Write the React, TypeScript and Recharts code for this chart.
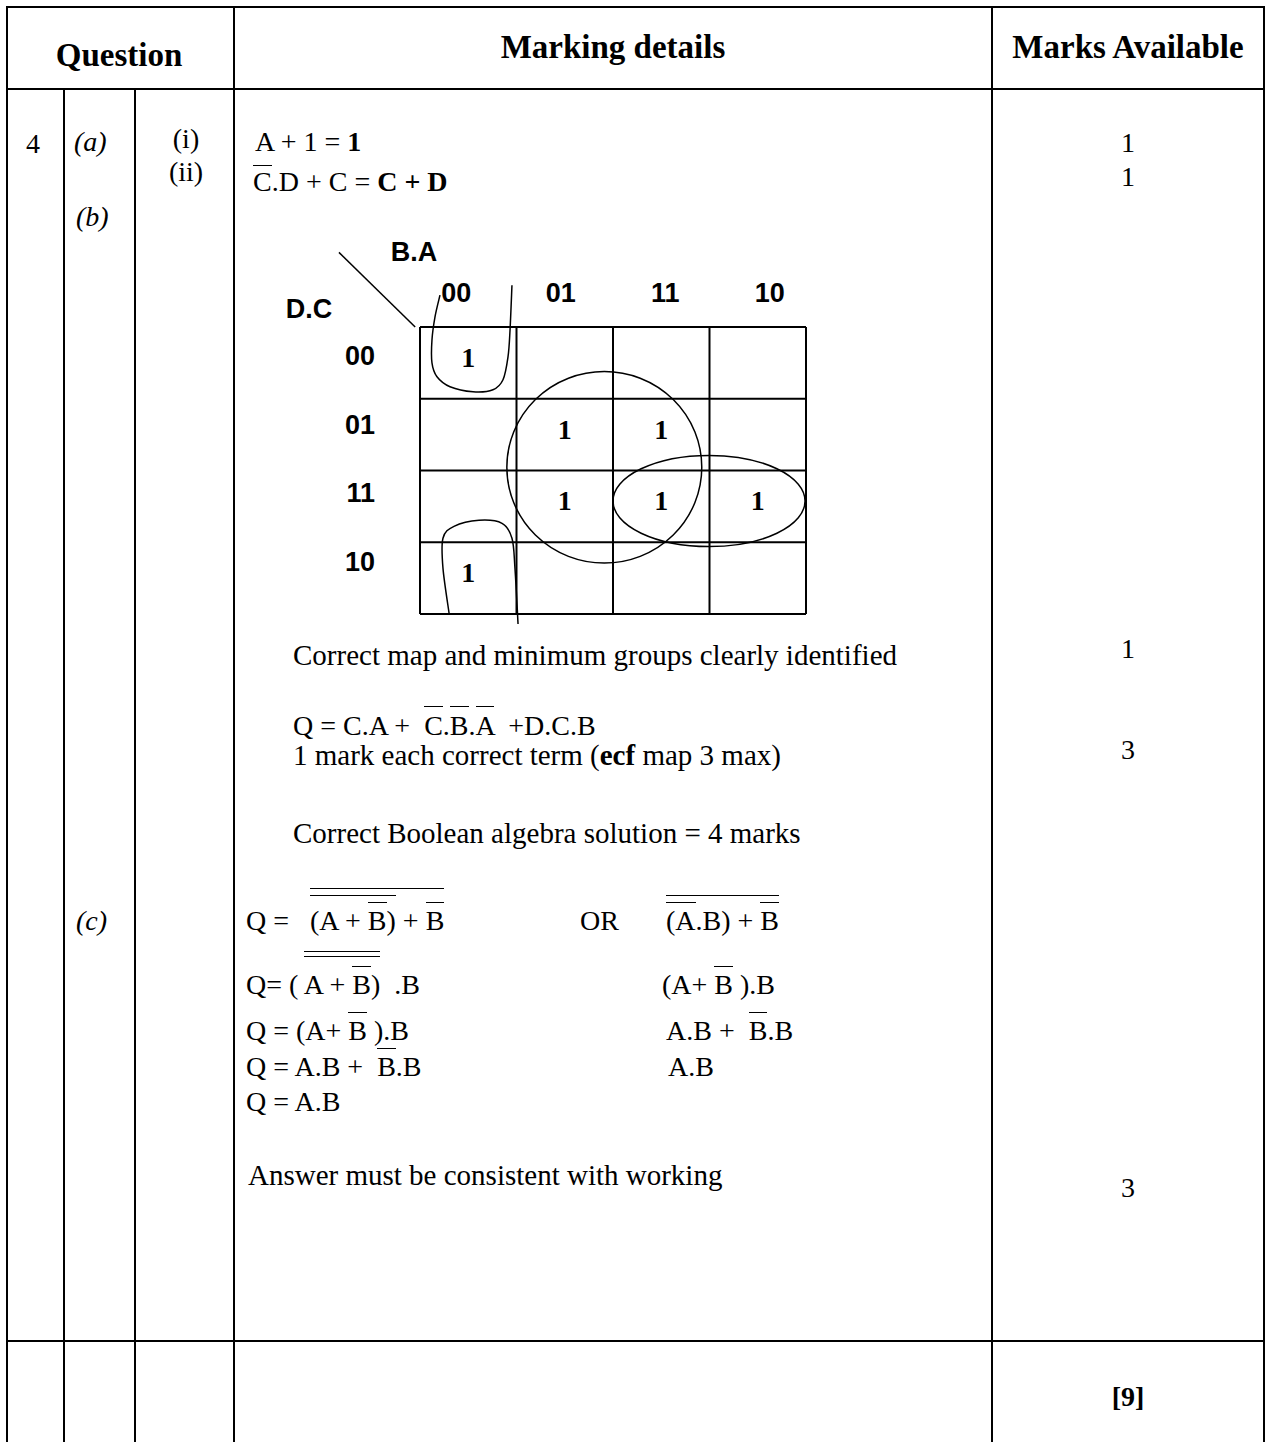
import React from "react";
import { ScatterChart, Scatter, XAxis, YAxis, ReferenceLine, ReferenceArea, Label } from "recharts";

// K-map axes (B.A across, D.C down)
const colLabels = ["00", "01", "11", "10"];
const rowLabels = ["00", "01", "11", "10"];
const gridLines = [0, 1, 2, 3, 4];

// cells holding a 1
const oneCols = [0, 1, 2, 1, 2, 3, 0];
const oneRows = [0, 1, 1, 2, 2, 2, 3];

// loops drawn round groups, in cell units
const loops = [
  { x1: 0.9, x2: 2.92, y1: 0.62, y2: 3.29 },
  { x1: 2.0, x2: 3.99, y1: 1.79, y2: 3.06 },
];
const topLoopU = [0.207, 0.155, 0.124, 0.124, 0.176, 0.311, 0.549, 0.756, 0.86, 0.912, 0.933, 0.953];
const topLoopV = [-0.444, -0.139, 0.181, 0.5, 0.694, 0.833, 0.903, 0.875, 0.736, 0.417, 0.042, -0.583];
const botLoopU = [0.301, 0.238, 0.238, 0.352, 0.611, 0.85, 0.953, 0.984, 1.016];
const botLoopV = [3.986, 3.361, 2.944, 2.778, 2.694, 2.736, 2.944, 3.361, 4.139];

const onesData = oneCols.map((c, i) => ({ x: c + 0.5, y: oneRows[i] + 0.5 }));

const SERIF = '"Liberation Serif", "Times New Roman", serif';
const SANS = '"Liberation Sans", Arial, sans-serif';
const AXIS_H = 30;
const AXIS_W = 40;

function smooth(pts: number[][]) {
  let d = `M${pts[0][0]},${pts[0][1]}`;
  for (let i = 0; i < pts.length - 1; i++) {
    const p0 = pts[i - 1] || pts[i];
    const p1 = pts[i];
    const p2 = pts[i + 1];
    const p3 = pts[i + 2] || p2;
    const c1 = [p1[0] + (p2[0] - p0[0]) / 6, p1[1] + (p2[1] - p0[1]) / 6];
    const c2 = [p2[0] - (p3[0] - p1[0]) / 6, p2[1] - (p3[1] - p1[1]) / 6];
    d += ` C${c1[0]},${c1[1]} ${c2[0]},${c2[1]} ${p2[0]},${p2[1]}`;
  }
  return d;
}

const loopShape = (us: number[], vs: number[]) => (p: any) => {
  const pts = us.map((u, i) => [p.x + (u / 4) * p.width, p.y + (vs[i] / 4) * p.height]);
  return <path d={smooth(pts)} fill="none" stroke="#000" strokeWidth={1.5} />;
};

const ellipseShape = (p: any) => (
  <ellipse
    cx={p.x + p.width / 2}
    cy={p.y + p.height / 2}
    rx={p.width / 2}
    ry={p.height / 2}
    fill="none"
    stroke="#000"
    strokeWidth={1.5}
  />
);

const KMap = () => (
  <ScatterChart width={560} height={420} margin={{ top: 97 - AXIS_H, right: 34, bottom: 36, left: 140 - AXIS_W }}>
    <XAxis
      type="number"
      dataKey="x"
      domain={[0, 4]}
      ticks={[0.5, 1.5, 2.5, 3.5]}
      interval={0}
      orientation="top"
      height={AXIS_H}
      axisLine={false}
      tickLine={false}
      tickSize={0}
      tickMargin={25}
      tick={(p: any) => {
        const i = Math.floor(p.payload.value);
        // hand-set headings sit a little wider apart than the cells
        return (
          <text x={p.x + (i - 1.5) * 8} y={p.y} textAnchor="middle" fontFamily={SANS} fontWeight="bold" fontSize={27} fill="#000">
            {colLabels[i]}
          </text>
        );
      }}
    >
      <Label
        content={(p: any) => (
          <text x={p.viewBox.x - 6} y={p.viewBox.y + AXIS_H - 66} textAnchor="middle" fontFamily={SANS} fontWeight="bold" fontSize={27} fill="#000">
            B.A
          </text>
        )}
      />
    </XAxis>
    <YAxis
      type="number"
      dataKey="y"
      domain={[0, 4]}
      reversed
      ticks={[0.5, 1.5, 2.5, 3.5]}
      interval={0}
      width={AXIS_W}
      axisLine={false}
      tickLine={false}
      tickSize={0}
      tickMargin={45}
      tick={(p: any) => {
        const i = Math.floor(p.payload.value);
        return (
          <text x={p.x} y={p.y + 2 - i * 3} textAnchor="end" fontFamily={SANS} fontWeight="bold" fontSize={27} fill="#000">
            {rowLabels[i]}
          </text>
        );
      }}
    >
      <Label
        content={(p: any) => (
          <text x={p.viewBox.x + AXIS_W - 111} y={p.viewBox.y - 9} textAnchor="middle" fontFamily={SANS} fontWeight="bold" fontSize={27} fill="#000">
            D.C
          </text>
        )}
      />
    </YAxis>
    {gridLines.map((v) => (
      <ReferenceLine key={"x" + v} x={v} stroke="#000" strokeWidth={2} />
    ))}
    {gridLines.map((v) => (
      <ReferenceLine key={"y" + v} y={v} stroke="#000" strokeWidth={2} />
    ))}
    <ReferenceLine
      segment={[
        { x: -0.84, y: -1.04 },
        { x: -0.05, y: 0 },
      ]}
      ifOverflow="visible"
      stroke="#000"
      strokeWidth={1.5}
    />
    {loops.map((l, i) => (
      <ReferenceArea key={"l" + i} x1={l.x1} x2={l.x2} y1={l.y1} y2={l.y2} ifOverflow="visible" shape={ellipseShape} />
    ))}
    <ReferenceArea x1={0} x2={4} y1={0} y2={4} ifOverflow="visible" shape={loopShape(topLoopU, topLoopV)} />
    <ReferenceArea x1={0} x2={4} y1={0} y2={4} ifOverflow="visible" shape={loopShape(botLoopU, botLoopV)} />
    <Scatter
      data={onesData}
      isAnimationActive={false}
      shape={(p: any) => (
        <text x={p.cx} y={p.cy + 4} textAnchor="middle" fontFamily={SERIF} fontWeight="bold" fontSize={28} fill="#000">
          1
        </text>
      )}
    />
  </ScatterChart>
);

const Ln = ({ x, y, w, h }: any) => (
  <div style={{ position: "absolute", left: x, top: y, width: w, height: h, background: "#000" }} />
);

// text placed by its baseline y
const T = ({ x, y, size = 28, bold, italic, center, children }: any) => (
  <div
    style={{
      position: "absolute",
      left: x,
      top: y - 0.8375 * size,
      fontSize: size,
      lineHeight: 1,
      whiteSpace: "pre",
      fontWeight: bold ? "bold" : "normal",
      fontStyle: italic ? "italic" : "normal",
      transform: center ? "translateX(-50%)" : undefined,
    }}
  >
    {children}
  </div>
);

// overline
const O = ({ h = 2, children }: any) => (
  <span style={{ borderTop: "1.5px solid #000", paddingTop: h }}>{children}</span>
);

export default function App() {
  return (
    <div
      style={{
        position: "absolute",
        left: 0,
        top: 0,
        width: 1266,
        height: 1442,
        background: "#fff",
        overflow: "hidden",
        fontFamily: SERIF,
        color: "#000",
      }}
    >
      {/* table rules */}
      <Ln x={6} y={6} w={1259} h={2} />
      <Ln x={6} y={88} w={1259} h={2} />
      <Ln x={6} y={1340} w={1259} h={2} />
      <Ln x={6} y={6} w={2} h={1436} />
      <Ln x={63} y={89} w={2} h={1353} />
      <Ln x={134} y={89} w={2} h={1353} />
      <Ln x={233} y={6} w={2} h={1436} />
      <Ln x={991} y={6} w={2} h={1436} />
      <Ln x={1263} y={6} w={2} h={1436} />

      {/* header */}
      <T x={119} y={67} size={33} bold center>Question</T>
      <T x={613} y={59} size={33} bold center>Marking details</T>
      <T x={1128} y={59} size={33} bold center>Marks Available</T>

      {/* (a) */}
      <T x={26} y={153}>4</T>
      <T x={74} y={151} italic>(a)</T>
      <T x={186} y={148} center>(i)</T>
      <T x={186} y={181} center>(ii)</T>
      <T x={255} y={151}>A + 1 = <b>1</b></T>
      <T x={253} y={191}><O h={0}>C</O>.D + C = <b>C + D</b></T>
      <T x={1128} y={152} center>1</T>
      <T x={1128} y={186} center>1</T>

      {/* (b) */}
      <T x={76} y={226} italic>(b)</T>
      <div style={{ position: "absolute", left: 280, top: 230 }}>
        <KMap />
      </div>
      <T x={293} y={665} size={29}>Correct map and minimum groups clearly identified</T>
      <T x={1128} y={658} center>1</T>
      <T x={293} y={735}>Q = C.A +  <O h={3}>C</O>.<O h={3}>B</O>.<O h={3}>A</O>  +D.C.B</T>
      <T x={293} y={765} size={29}>1 mark each correct term (<b>ecf</b> map 3 max)</T>
      <T x={1128} y={759} center>3</T>
      <T x={293} y={843} size={29}>Correct Boolean algebra solution = 4 marks</T>

      {/* (c) */}
      <T x={76} y={930} italic>(c)</T>
      <T x={246} y={930}>
        Q =   <O h={16}><O h={9}>(A + <O>B</O>)</O> + <O>B</O></O>
      </T>
      <T x={580} y={930}>OR</T>
      <T x={666} y={930}>
        <O h={9}><O>(A</O>.B) + <O>B</O></O>
      </T>
      <T x={246} y={994}>
        Q= ( <O h={17}><O h={12}>A + <O>B</O>)</O></O>  .B
      </T>
      <T x={662} y={994}>(A+ <O>B</O> ).B</T>
      <T x={246} y={1040}>Q = (A+ <O>B</O> ).B</T>
      <T x={666} y={1040}>A.B +  <O>B</O>.B</T>
      <T x={246} y={1076}>Q = A.B +  <O>B</O>.B</T>
      <T x={668} y={1076}>A.B</T>
      <T x={246} y={1111}>Q = A.B</T>
      <T x={248} y={1185} size={29}>Answer must be consistent with working</T>
      <T x={1128} y={1197} center>3</T>

      <T x={1128} y={1406} bold center>[9]</T>
    </div>
  );
}
